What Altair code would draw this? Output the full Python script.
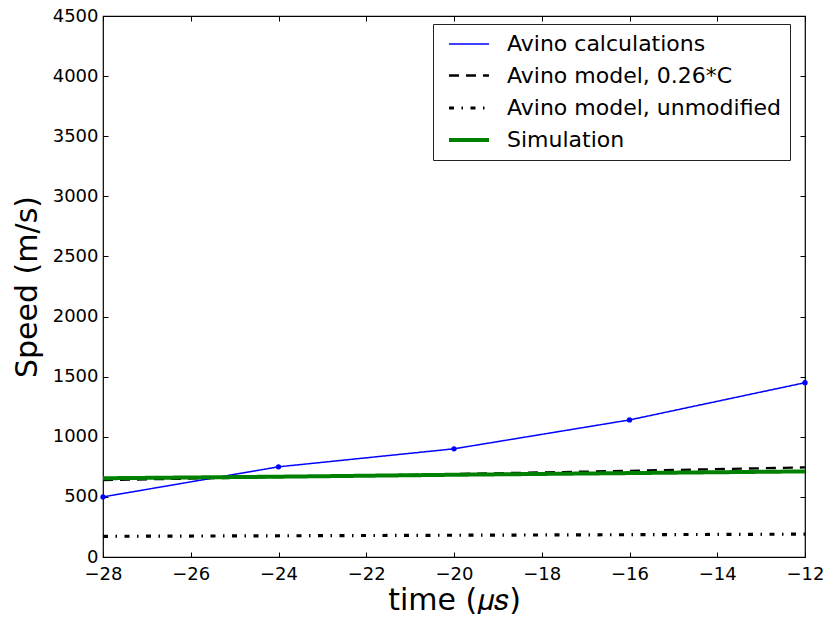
import altair as alt
import pandas as pd

# ---- data ----
calc_t = [-28, -24, -20, -16, -12]
calc_v = [500, 750, 900, 1140, 1450]
mod_t = [-28, -24, -20, -16, -12]
mod_v = [640, 665, 690, 717, 745]
unmod_t = [-28, -20, -12]
unmod_v = [172, 181, 190]
sim_t = [-28, -24, -20, -16, -12]
sim_v = [655, 668, 684, 698, 712]

names = ["Avino calculations", "Avino model, 0.26*C",
         "Avino model, unmodified", "Simulation"]
colors = ["#0000ff", "#000000", "#000000", "#008000"]
dashes = [[1, 0], [10, 7], [5, 7.5, 1.5, 7.5], [1, 0]]
widths = [1.5, 4, 5, 7]

x_ticks = [-28, -26, -24, -22, -20, -18, -16, -14, -12]
y_ticks = [0, 500, 1000, 1500, 2000, 2500, 3000, 3500, 4000, 4500]


def frame(ts, vs, name):
    return pd.DataFrame({"t": ts, "v": vs, "series": name})


d_calc = frame(calc_t, calc_v, names[0])
d_mod = frame(mod_t, mod_v, names[1])
d_unmod = frame(unmod_t, unmod_v, names[2])
d_sim = frame(sim_t, sim_v, names[3])

FONT = "DejaVu Sans"

xs = alt.Scale(domain=[-28, -12], nice=False, zero=False)
ys = alt.Scale(domain=[0, 4500], nice=False)

common_axis = dict(domain=False, grid=False, tickColor="black", tickSize=5,
                   tickWidth=1, offset=-5, labelFont=FONT, labelFontSize=18,
                   labelColor="black", labelFlush=False, labelOverlap=False,
                   titleFont=FONT, titleFontSize=30, titleColor="black",
                   titleFontWeight="normal")

x_bottom = alt.Axis(orient="bottom", values=x_ticks, title="time (𝜇𝑠)",
                    format="d", labelPadding=8, titlePadding=2, **common_axis)
x_top = alt.Axis(orient="top", values=x_ticks, title=None, labels=False,
                 **common_axis)
y_left = alt.Axis(orient="left", values=y_ticks, title="Speed (m/s)",
                  format="d", labelPadding=5, titlePadding=10, **common_axis)
y_right = alt.Axis(orient="right", values=y_ticks, title=None, labels=False,
                   **common_axis)

leg = alt.Legend(orient="none", legendX=330, legendY=8, title=None,
                 strokeColor="#222222", fillColor="white", padding=9,
                 symbolType="M-2,0L2,0", symbolSize=400, symbolOffset=15,
                 labelOffset=26, labelFont=FONT, labelFontSize=22,
                 labelColor="black", rowPadding=9, cornerRadius=0,
                 labelLimit=400)

color = alt.Color("series:N", scale=alt.Scale(domain=names, range=colors),
                  legend=leg)
sdash = alt.StrokeDash("series:N", scale=alt.Scale(domain=names, range=dashes),
                       legend=leg)
swidth = alt.StrokeWidth("series:N", scale=alt.Scale(domain=names, range=widths),
                         legend=leg)


def line_layer(df, xaxis=None, yaxis=None):
    return alt.Chart(df).mark_line(strokeCap="butt").encode(
        x=alt.X("t:Q", scale=xs, axis=xaxis),
        y=alt.Y("v:Q", scale=ys, axis=yaxis),
        color=color, strokeDash=sdash, strokeWidth=swidth,
    )


l_calc = line_layer(d_calc, x_bottom, y_left)
p_calc = alt.Chart(d_calc).mark_circle(size=28, opacity=1, color="#0000ff").encode(
    x=alt.X("t:Q", scale=xs, axis=None),
    y=alt.Y("v:Q", scale=ys, axis=None),
)
l_mod = line_layer(d_mod)
l_unmod = line_layer(d_unmod)
l_sim = line_layer(d_sim, x_top, y_right)

chart = alt.layer(l_calc, p_calc, l_mod, l_unmod, l_sim).resolve_axis(
    x="independent", y="independent"
).properties(
    width=702, height=541,
    autosize=alt.AutoSizeParams(type="none"),
    padding={"left": 95, "top": 8, "right": 19, "bottom": 57},
).configure_view(stroke="black", strokeWidth=1.2)

chart.save("out.html", embed_options={"renderer": "svg", "actions": False})
